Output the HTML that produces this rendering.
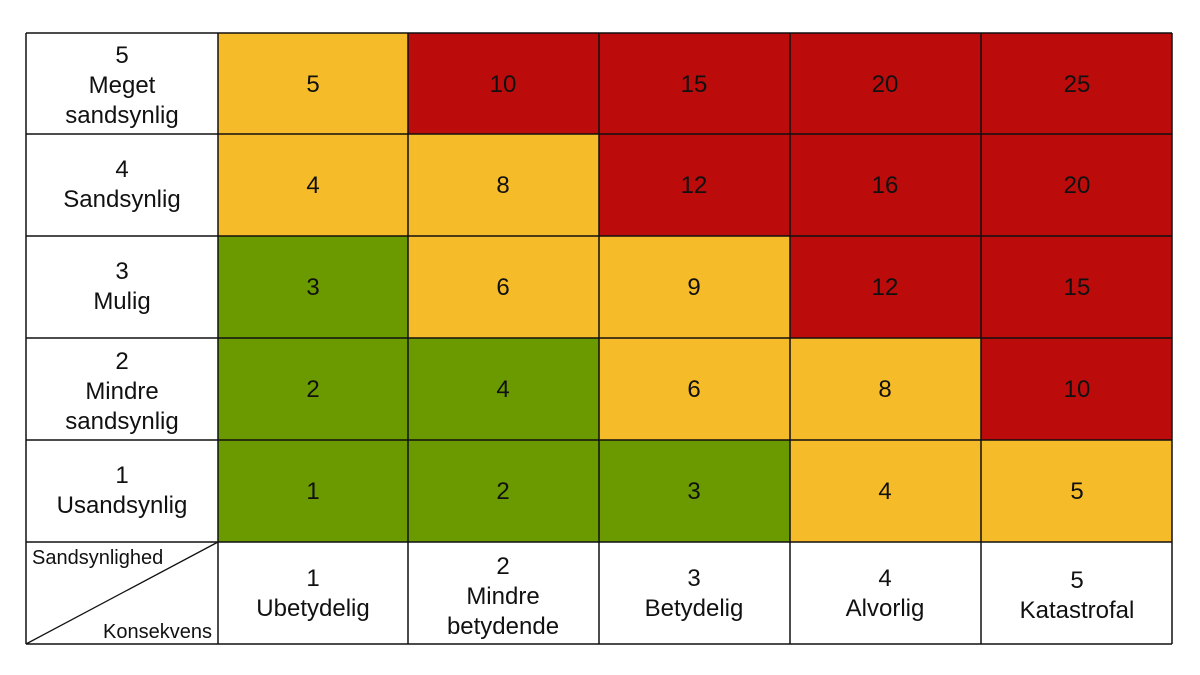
<!DOCTYPE html>
<html><head><meta charset="utf-8"><style>body{margin:0;background:#fff}svg{display:block}text{font-family:"Liberation Sans",sans-serif;fill:#111;font-size:24px;text-anchor:middle}</style></head>
<body>
<svg width="1200" height="675" viewBox="0 0 1200 675">
<rect x="218" y="33" width="190" height="101" fill="#F5BB28"/>
<rect x="408" y="33" width="764" height="101" fill="#BB0B0B"/>
<rect x="218" y="134" width="381" height="102" fill="#F5BB28"/>
<rect x="599" y="134" width="573" height="102" fill="#BB0B0B"/>
<rect x="218" y="236" width="190" height="102" fill="#6A9A00"/>
<rect x="408" y="236" width="382" height="102" fill="#F5BB28"/>
<rect x="790" y="236" width="382" height="102" fill="#BB0B0B"/>
<rect x="218" y="338" width="381" height="102" fill="#6A9A00"/>
<rect x="599" y="338" width="382" height="102" fill="#F5BB28"/>
<rect x="981" y="338" width="191" height="102" fill="#BB0B0B"/>
<rect x="218" y="440" width="572" height="102" fill="#6A9A00"/>
<rect x="790" y="440" width="382" height="102" fill="#F5BB28"/>

<g stroke="#111" stroke-width="1.5">
<line x1="26" y1="33" x2="26" y2="644"/><line x1="218" y1="33" x2="218" y2="644"/>
<line x1="408" y1="33" x2="408" y2="644"/><line x1="599" y1="33" x2="599" y2="644"/>
<line x1="790" y1="33" x2="790" y2="644"/><line x1="981" y1="33" x2="981" y2="644"/>
<line x1="1172" y1="33" x2="1172" y2="644"/>
<line x1="26" y1="33" x2="1172" y2="33"/><line x1="26" y1="134" x2="1172" y2="134"/>
<line x1="26" y1="236" x2="1172" y2="236"/><line x1="26" y1="338" x2="1172" y2="338"/>
<line x1="26" y1="440" x2="1172" y2="440"/><line x1="26" y1="542" x2="1172" y2="542"/>
<line x1="26" y1="644" x2="1172" y2="644"/>
<line x1="26" y1="644" x2="218" y2="542" stroke-width="1.3"/>
</g>

<text x="313" y="92">5</text><text x="503" y="92">10</text><text x="694" y="92">15</text><text x="885" y="92">20</text><text x="1077" y="92">25</text>
<text x="313" y="193">4</text><text x="503" y="193">8</text><text x="694" y="193">12</text><text x="885" y="193">16</text><text x="1077" y="193">20</text>
<text x="313" y="295">3</text><text x="503" y="295">6</text><text x="694" y="295">9</text><text x="885" y="295">12</text><text x="1077" y="295">15</text>
<text x="313" y="397">2</text><text x="503" y="397">4</text><text x="694" y="397">6</text><text x="885" y="397">8</text><text x="1077" y="397">10</text>
<text x="313" y="499">1</text><text x="503" y="499">2</text><text x="694" y="499">3</text><text x="885" y="499">4</text><text x="1077" y="499">5</text>

<text x="122" y="63">5</text><text x="122" y="93">Meget</text><text x="122" y="123">sandsynlig</text>
<text x="122" y="177">4</text><text x="122" y="207">Sandsynlig</text>
<text x="122" y="279">3</text><text x="122" y="309">Mulig</text>
<text x="122" y="369">2</text><text x="122" y="399">Mindre</text><text x="122" y="429">sandsynlig</text>
<text x="122" y="483">1</text><text x="122" y="513">Usandsynlig</text>

<text x="313" y="586">1</text><text x="313" y="616">Ubetydelig</text>
<text x="503" y="574">2</text><text x="503" y="604">Mindre</text><text x="503" y="634">betydende</text>
<text x="694" y="586">3</text><text x="694" y="616">Betydelig</text>
<text x="885" y="586">4</text><text x="885" y="616">Alvorlig</text>
<text x="1077" y="588">5</text><text x="1077" y="618">Katastrofal</text>

<text x="32" y="564" style="font-size:20px;text-anchor:start">Sandsynlighed</text>
<text x="212" y="638" style="font-size:20px;text-anchor:end">Konsekvens</text>
</svg>
</body></html>
